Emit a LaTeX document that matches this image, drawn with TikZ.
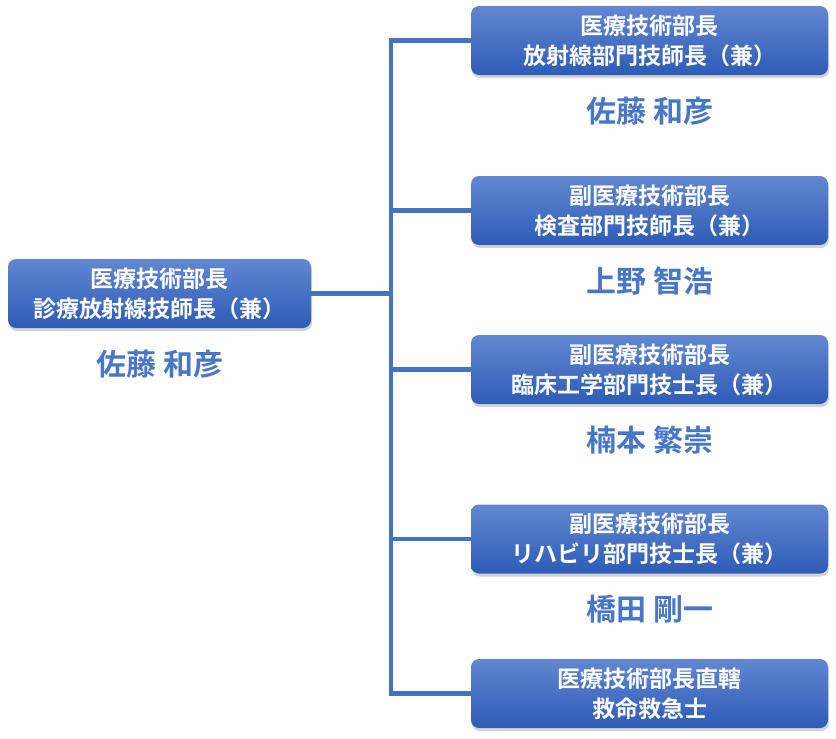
\documentclass[tikz,border=0pt]{standalone}
\usepackage{fontspec}
\newfontfamily\jp{Noto Sans CJK JP}[BoldFont={Noto Sans CJK JP Bold}]
\usetikzlibrary{shadows}
\definecolor{boxtop}{RGB}{98,135,210}
\definecolor{boxbot}{RGB}{45,92,182}
\definecolor{linecol}{RGB}{68,114,196}
\definecolor{namecol}{RGB}{72,118,200}

\begin{document}
\begin{tikzpicture}[x=1pt,y=-1pt]
\tikzstyle{post}=[rectangle,rounded corners=8pt,top color=boxtop,bottom color=boxbot,text=white,font=\jp\bfseries\fontsize{23}{30}\selectfont,align=center,minimum width=357pt,minimum height=69pt,inner sep=0pt,drop shadow={shadow xshift=1pt,shadow yshift=-3pt,opacity=0.35}]
\tikzstyle{person}=[text=namecol,font=\jp\bfseries\fontsize{30}{34}\selectfont]
\tikzstyle{link}=[draw=linecol,line width=4.5pt]
\useasboundingbox (0,0) rectangle (836,739);
% left side
\node[post,minimum width=303pt] (head) at (159.5,293.5) {医療技術部長\\診療放射線技師長（兼）};
\node[person] (headname) at (160,364) {佐藤 和彦};
% right column
\node[post] (rad) at (649.5,40.5) {医療技術部長\\放射線部門技師長（兼）};
\node[person] (radname) at (650,111) {佐藤 和彦};
\node[post] (lab) at (649.5,210.5) {副医療技術部長\\検査部門技師長（兼）};
\node[person] (labname) at (650,281) {上野 智浩};
\node[post] (ce) at (649.5,369.5) {副医療技術部長\\臨床工学部門技士長（兼）};
\node[person] (cename) at (650,440) {楠本 繁崇};
\node[post] (reha) at (649.5,539) {副医療技術部長\\リハビリ部門技士長（兼）};
\node[person] (rehaname) at (650,609) {橋田 剛一};
\node[post] (ems) at (649.5,693.5) {医療技術部長直轄\\救命救急士};
% connectors
\coordinate (bus) at (391,293.5);
\draw[link] (head.east) -- (bus);
\draw[link] (rad.west) -- (rad.west -| bus) -- (ems.west -| bus) -- (ems.west);
\foreach \n in {lab,ce,reha}
  \draw[link] (\n.west -| bus) -- (\n.west);
\end{tikzpicture}
\end{document}
